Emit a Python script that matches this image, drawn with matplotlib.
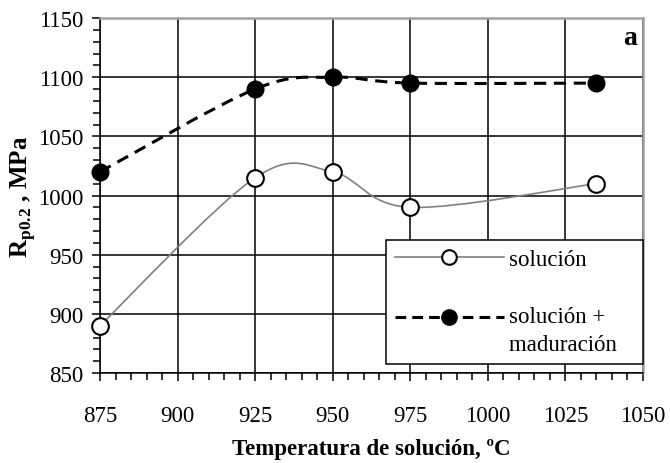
import numpy as np
import matplotlib
matplotlib.use('Agg')
import matplotlib.pyplot as plt
from matplotlib.path import Path
from matplotlib.patches import PathPatch
from matplotlib.lines import Line2D
from matplotlib.legend_handler import HandlerLine2D
from matplotlib.ticker import MultipleLocator

plt.rcParams['font.family'] = ['Liberation Serif', 'DejaVu Serif']
plt.rcParams['mathtext.fontset'] = 'custom'
plt.rcParams['mathtext.rm'] = 'Liberation Serif'
plt.rcParams['mathtext.bf'] = 'Liberation Serif:bold'

temps = [875, 925, 950, 975, 1035]
solucion = [890, 1015, 1020, 990, 1010]
maduracion = [1020, 1090, 1100, 1095, 1095]

x_ticks = [875, 900, 925, 950, 975, 1000, 1025, 1050]
y_ticks = [850, 900, 950, 1000, 1050, 1100, 1150]

FS = 16.5


def smooth_path(xs, ys):
    # excel style smoothed line: bezier segments, catmull-rom control points
    pts = np.column_stack([xs, ys]).astype(float)
    n = len(pts)
    verts = [pts[0]]
    codes = [Path.MOVETO]
    for i in range(n - 1):
        p0 = pts[i - 1] if i > 0 else pts[i]
        p1 = pts[i]
        p2 = pts[i + 1]
        p3 = pts[i + 2] if i + 2 < n else pts[i + 1]
        c1 = p1 + (p2 - p0) / 6.0
        c2 = p2 - (p3 - p1) / 6.0
        verts += [c1, c2, p2]
        codes += [Path.CURVE4] * 3
    return Path(verts, codes)


class HandlerUp(HandlerLine2D):
    # put the handle level with the first line of a two-line label
    def __init__(self, dy, **kw):
        super().__init__(**kw)
        self.dy = dy

    def create_artists(self, legend, orig_handle, xdescent, ydescent, width,
                       height, fontsize, trans):
        arts = super().create_artists(legend, orig_handle, xdescent, ydescent,
                                      width, height, fontsize, trans)
        for a in arts:
            a.set_ydata(np.asarray(a.get_ydata()) + self.dy)
        return arts


fig = plt.figure(figsize=(6.7, 4.64), dpi=100)
ax = fig.add_axes([100 / 670, 1 - 374 / 464, 543 / 670, 355 / 464])

ax.set_xlim(875, 1050)
ax.set_ylim(850, 1150)

ax.add_patch(PathPatch(smooth_path(temps, solucion), facecolor='none',
                       edgecolor='#808080', lw=1.2, zorder=3))
ax.add_patch(PathPatch(smooth_path(temps, maduracion), facecolor='none',
                       edgecolor='black', lw=2.2, linestyle=(0, (4, 2.5)), zorder=3))
ax.plot(temps, solucion, linestyle='none', marker='o', ms=12, mfc='white',
        mec='black', mew=1.5, zorder=4, clip_on=False)
ax.plot(temps, maduracion, linestyle='none', marker='o', ms=12, mfc='black',
        mec='black', zorder=4, clip_on=False)

ax.set_xticks(x_ticks)
ax.set_yticks(y_ticks)
ax.xaxis.set_minor_locator(MultipleLocator(5))
ax.yaxis.set_minor_locator(MultipleLocator(10))
ax.grid(True, which='major', color='black', lw=1.1)
ax.set_axisbelow(True)
ax.tick_params(which='both', direction='out', colors='black', labelsize=FS)
ax.tick_params(which='major', length=6, width=1.1)
ax.tick_params(which='minor', length=5, width=1.1)
ax.tick_params(axis='x', pad=17)
ax.tick_params(axis='y', pad=6)

for s in ['left', 'bottom']:
    ax.spines[s].set_color('black')
    ax.spines[s].set_linewidth(1.1)
for s in ['top', 'right']:
    ax.spines[s].set_color('#a0a0a0')
    ax.spines[s].set_linewidth(1.8)

ax.set_xlabel('Temperatura de solución, ºC', fontsize=FS, fontweight='bold', labelpad=9)
ax.set_ylabel(r'R$_{\mathbf{p0.2}}$ , MPa', fontsize=18, fontweight='bold', labelpad=0)

ax.text(0.989, 0.927, 'a', transform=ax.transAxes, ha='right', va='baseline',
        fontsize=20, fontweight='bold')

h_sol = Line2D([], [], color='#808080', lw=1.2, marker='o', ms=10.5, mfc='white',
               mec='black', mew=1.5)
h_mad = Line2D([], [], color='black', lw=2.2, linestyle=(0, (3.5, 2)), marker='o',
               ms=11, mfc='black', mec='black')
leg = ax.legend([h_sol, h_mad], ['solución', 'solución +\nmaduración   '],
                loc='lower right', bbox_to_anchor=(1.0, 9 / 355), borderaxespad=0,
                fontsize=FS, frameon=True, fancybox=False, edgecolor='black',
                framealpha=1, handlelength=4.75, handletextpad=0.22,
                labelspacing=1.6, borderpad=0.4,
                handler_map={h_mad: HandlerUp(10.0)})
leg.get_frame().set_linewidth(1.1)
leg.get_texts()[1].set_linespacing(1.4)
leg.set_zorder(5)

fig.savefig('out.png', dpi=100)
